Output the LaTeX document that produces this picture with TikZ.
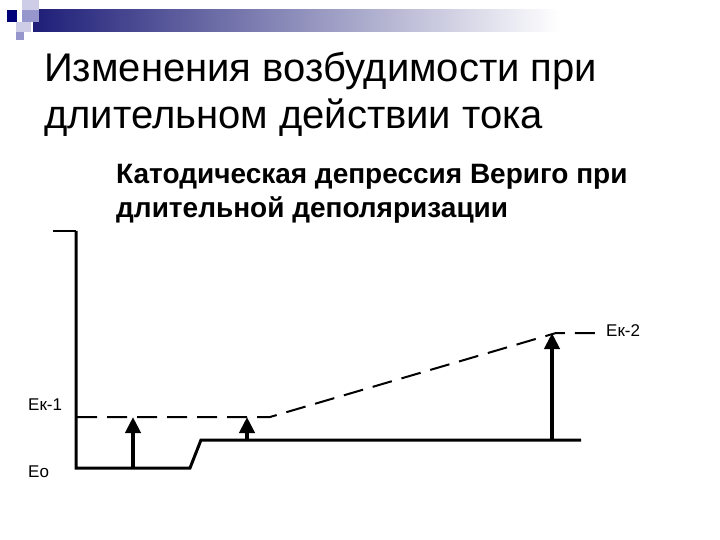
\documentclass[tikz,border=0pt]{standalone}
\usepackage{fontspec}
\setmainfont{Liberation Sans}
\usetikzlibrary{arrows.meta}
\definecolor{navyA}{RGB}{0,0,120}
\definecolor{barL}{RGB}{30,30,120}
\definecolor{lavA}{RGB}{150,150,205}
\definecolor{lavB}{RGB}{205,205,232}
\tikzset{
  axisline/.style={line width=3pt},
  dashline/.style={line width=2pt, dash pattern=on 20pt off 10pt},
  uparrow/.style={line width=4pt, -{Triangle[width=15pt,length=16pt]}},
  lbl/.style={anchor=base west, inner sep=0pt, font=\fontsize{17}{20}\selectfont},
}
\begin{document}
\begin{tikzpicture}[x=1pt,y=-1pt]
\useasboundingbox (0,0) rectangle (720,540);
% decoration
\shade[left color=barL, right color=white] (33,10) rectangle (560,32);
\fill[white] (560,10) rectangle (720,32);
\fill[lavB] (22,0) rectangle (39,10);
\fill[lavA] (22,10) rectangle (39,22);
\fill[lavB] (16,22) rectangle (31,32);
\fill[lavA] (16,32) rectangle (24,40);
\fill[navyA] (7,10) rectangle (17,22);
% titles (base anchor = last line)
\node[anchor=base west, inner sep=0pt, align=left, font=\fontsize{40}{47}\selectfont] (title) at (44,129)
  {Изменения возбудимости при\\длительном действии тока};
\node[anchor=base west, inner sep=0pt, align=left, font=\bfseries\fontsize{28}{34}\selectfont] (sub) at (116,218)
  {Катодическая депрессия Вериго при\\длительной деполяризации};
% graph coordinates
\coordinate (tick) at (53,231);
\coordinate (axtop) at (76,231);
\coordinate (origin) at (76,468);
\coordinate (b1) at (190,468);
\coordinate (b2) at (201,440);
\coordinate (b3) at (581,440);
\coordinate (d0) at (77,417);
\coordinate (d1) at (270,417);
\coordinate (d2) at (556,333);
\coordinate (d3) at (597,333);
\coordinate (a1s) at (133,468);
\coordinate (a1e) at (133,417);
\coordinate (a2s) at (247,440);
\coordinate (a2e) at (247,417);
\coordinate (a3s) at (552,440);
\coordinate (a3e) at (552,333);
\draw[line width=1.5pt] (tick) -- (axtop);
\draw[axisline] (axtop) -- (origin) -- (b1) -- (b2) -- (b3);
\draw[dashline] (d0) -- (d1) -- (d2) -- (d3);
\draw[uparrow] (a1s) -- (a1e);
\draw[uparrow] (a2s) -- (a2e);
\draw[uparrow] (a3s) -- (a3e);
\node[lbl] (ek1) at (28,410) {Ек-1};
\node[lbl] (eo) at (28,477) {Ео};
\node[lbl] (ek2) at (606,336) {Ек-2};
\end{tikzpicture}
\end{document}
